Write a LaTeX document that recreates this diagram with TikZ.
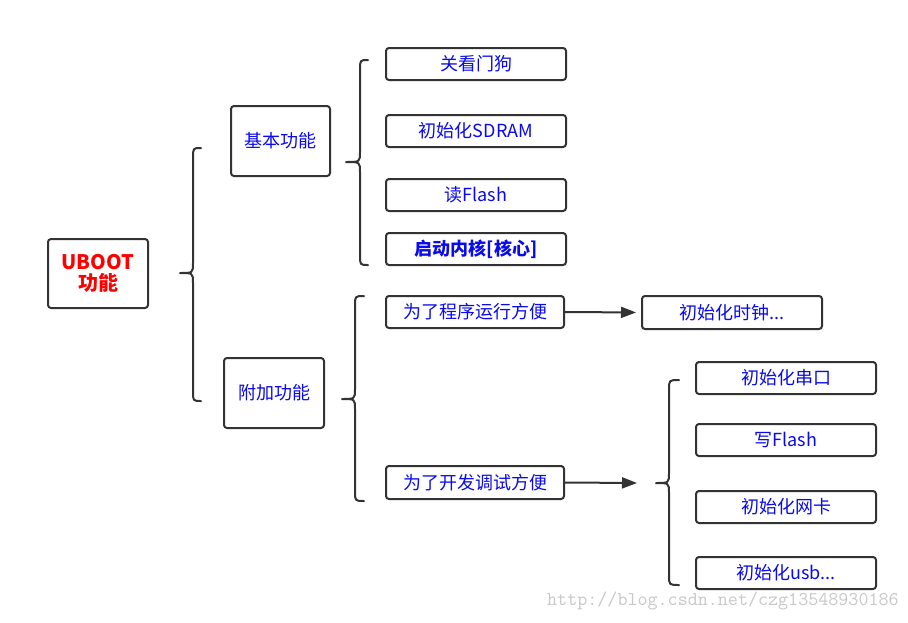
\documentclass[tikz,border=0pt]{standalone}
\usepackage{fontspec}
\setmainfont{Noto Sans CJK SC}
\usetikzlibrary{arrows.meta}
\definecolor{linegray}{RGB}{51,51,51}
\definecolor{txtblue}{RGB}{10,10,235}
\definecolor{wmgray}{RGB}{200,200,200}
\tikzset{
  box/.style={draw=linegray, line width=2pt, rounded corners=3pt, fill=white,
    minimum width=180pt, minimum height=32pt, inner sep=0pt,
    text=txtblue, font=\fontsize{18}{20}\selectfont},
  bigbox/.style={box, minimum width=100pt, minimum height=70pt},
  bracepath/.style={draw=linegray, line width=2pt, line cap=round, line join=round},
  arr/.style={draw=linegray, line width=2pt, -{Triangle[length=15pt,width=11pt]}}
}
\begin{document}
\begin{tikzpicture}[x=1pt,y=-1pt]
\useasboundingbox (0,0) rectangle (908,622);
\fill[white] (0,0) rectangle (908,622);
% nodes
\node[bigbox, minimum height=69pt, text=red, font=\fontsize{20}{22}\selectfont\bfseries, align=center] (uboot) at (98,273.5) {UBOOT\\[-1pt]功能};
\node[bigbox, minimum width=99pt] (jb) at (280.5,141) {基本功能};
\node[bigbox] (fj) at (274,393) {附加功能};
\node[box] (a1) at (476,64) {关看门狗};
\node[box] (a2) at (476,131) {初始化SDRAM};
\node[box] (a3) at (476,195) {读Flash};
\node[box, font=\fontsize{18}{20}\selectfont\bfseries] (a4) at (476,249) {启动内核[核心]};
\node[box, minimum width=178pt] (p1) at (475,312) {为了程序运行方便};
\node[box, minimum height=33pt] (clk) at (732,312.5) {初始化时钟...};
\node[box, minimum width=178pt, minimum height=33pt] (p2) at (475,482.5) {为了开发调试方便};
\node[box] (b1) at (786,378) {初始化串口};
\node[box] (b2) at (786,440) {写Flash};
\node[box] (b3) at (786,507) {初始化网卡};
\node[box] (b4) at (786,573) {初始化usb...};
% braces
\coordinate (t1) at (180,273);
\coordinate (t2) at (346,162);
\coordinate (t3) at (342,399);
\coordinate (t4) at (656,483);
\draw[bracepath] (201,148) .. controls (193,148) .. (193,158) -- (193,263) .. controls (193,273) .. (t1)
  .. controls (193,273) .. (193,283) -- (193,391) .. controls (193,401) .. (201,401);
\draw[bracepath] (368,60) .. controls (360,60) .. (360,70) -- (360,152) .. controls (360,162) .. (t2)
  .. controls (360,162) .. (360,172) -- (360,255) .. controls (360,265) .. (368,265);
\draw[bracepath] (364,296) .. controls (355,296) .. (355,306) -- (355,389) .. controls (355,399) .. (t3)
  .. controls (355,399) .. (355,409) -- (355,491) .. controls (355,501) .. (364,501);
\draw[bracepath] (679,380) .. controls (669,380) .. (669,390) -- (669,473) .. controls (669,483) .. (t4)
  .. controls (669,483) .. (669,493) -- (669,575) .. controls (669,585) .. (679,585);
% arrows
\coordinate (e2) at (637,483);
\draw[arr, shorten >=5pt] (p1.east) -- (clk.west);
\draw[arr] (p2.east) -- (e2);
% watermark
\node[anchor=west, text=wmgray, inner sep=0pt, font=\ttfamily\fontsize{19.5}{20}\selectfont] (wm) at (547,601) {http://blog.csdn.net/czg13548930186};
\end{tikzpicture}
\end{document}
